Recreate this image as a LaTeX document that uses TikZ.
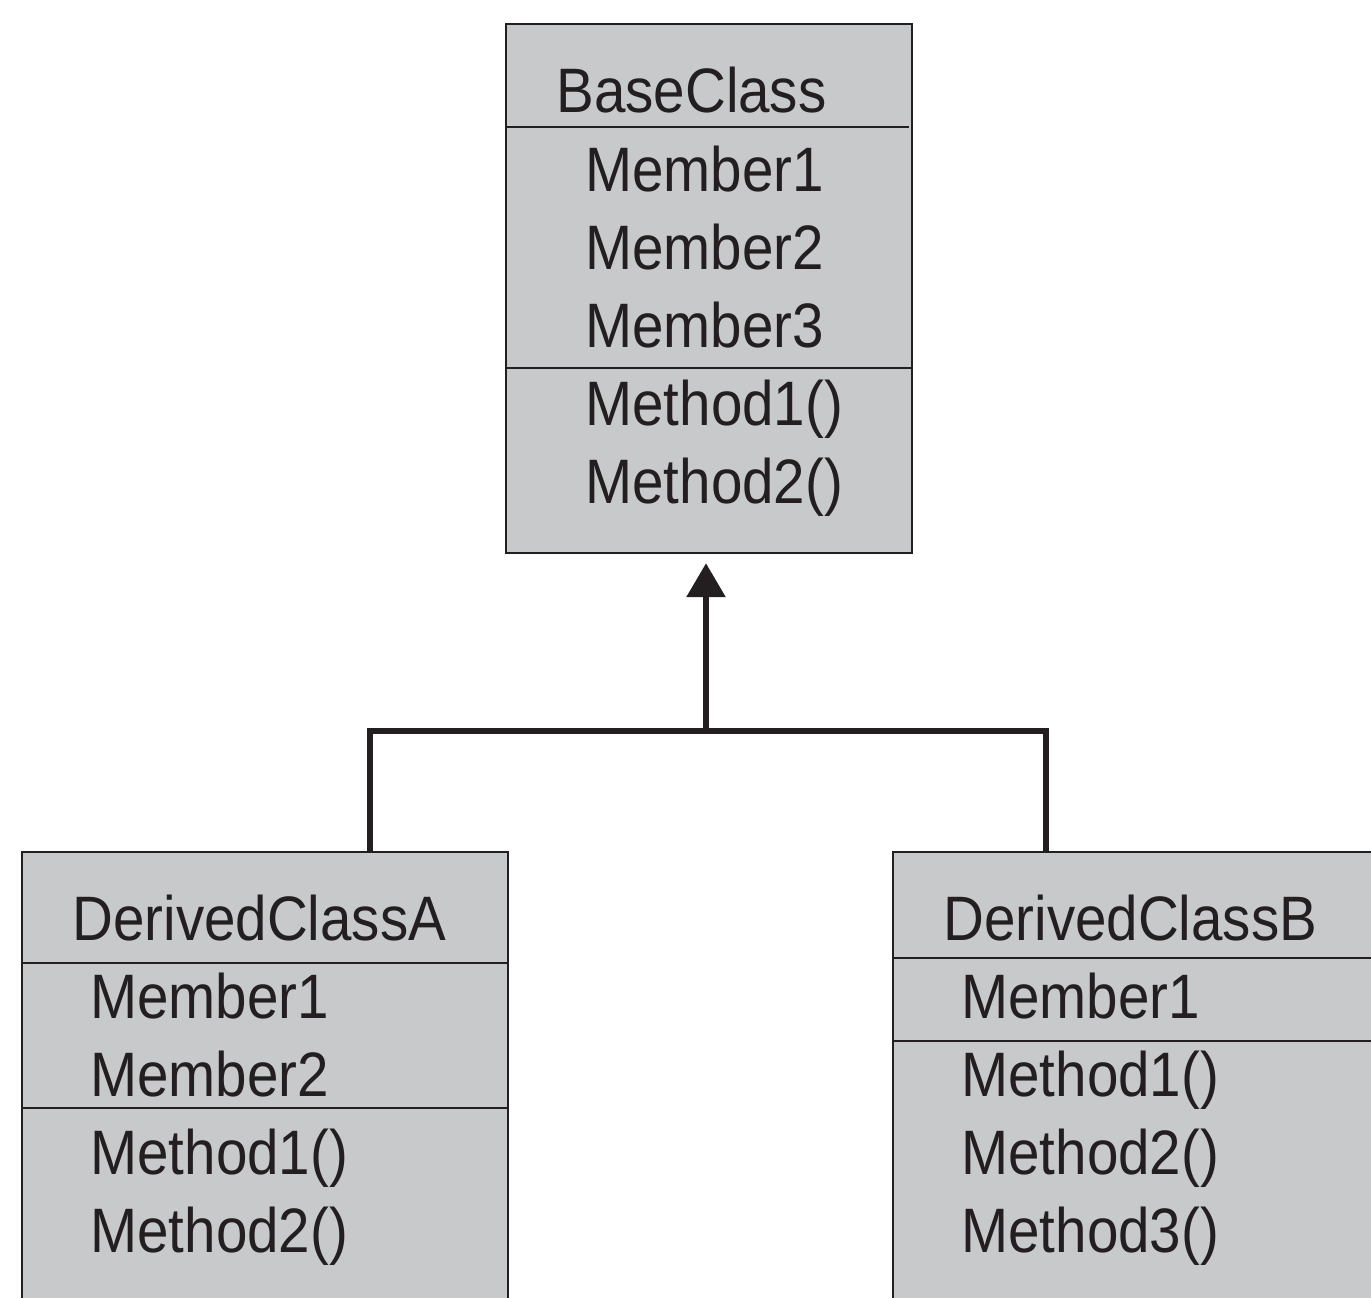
\documentclass[tikz,border=0pt]{standalone}
\usepackage{fontspec}
\setmainfont{Liberation Sans}[FakeStretch=0.9]
\usetikzlibrary{arrows.meta,fit}
\definecolor{boxgray}{HTML}{C8C9CB}
\definecolor{ink}{HTML}{231F20}
\begin{document}
\begin{tikzpicture}[x=0.5pt,y=-0.5pt,
  classbox/.style={draw=ink,fill=boxgray,line width=1.2pt,inner sep=0pt},
  sepline/.style={draw=ink,line width=1.1pt},
  lbl/.style={anchor=base west,inner sep=0pt,text=ink,font=\fontsize{31.4}{36}\selectfont},
  link/.style={draw=ink,line width=3pt,line join=miter}]
\useasboundingbox (0,0) rectangle (1371,1297);
\clip (0,0) rectangle (1371,1297);
% boxes
\node[classbox,fit={(506,24) (912,553)}] (base) {};
\node[classbox,fit={(22,852) (508,1330)}] (dA) {};
\node[classbox,fit={(893,852) (1400,1330)}] (dB) {};
% separators
\draw[sepline] (506,127) -- (909,127);
\draw[sepline] (506,368) -- (912,368);
\draw[sepline] (22,963) -- (508,963);
\draw[sepline] (22,1108) -- (508,1108);
\draw[sepline] (893,958) -- (1371,958);
\draw[sepline] (893,1041) -- (1371,1041);
% texts base
\node[lbl] (bt) at (556,112) {BaseClass};
\node[lbl] (bm1) at (585,191) {Member1};
\node[lbl] (bm2) at (585,269) {Member2};
\node[lbl] (bm3) at (585,347) {Member3};
\node[lbl] (bf1) at (585,425) {Method1()};
\node[lbl] (bf2) at (585,503) {Method2()};
% texts A
\node[lbl] (at) at (72,940) {DerivedClassA};
\node[lbl] (am1) at (90,1018) {Member1};
\node[lbl] (am2) at (90,1096) {Member2};
\node[lbl] (af1) at (90,1174) {Method1()};
\node[lbl] (af2) at (90,1252) {Method2()};
% texts B
\node[lbl] (btt) at (943,940) {DerivedClassB};
\node[lbl] (bbm1) at (961,1018) {Member1};
\node[lbl] (bbf1) at (961,1096) {Method1()};
\node[lbl] (bbf2) at (961,1174) {Method2()};
\node[lbl] (bbf3) at (961,1252) {Method3()};
% connectors
\coordinate (junc) at (706,731);
\coordinate (ja) at (370,852);
\coordinate (jb) at (1046,852);
\draw[link] (ja) |- (junc) -| (jb);
\draw[link,-{Triangle[length=17pt,width=19pt]}] (junc) -- ([yshift=-4.5pt]base.south -| junc);
\end{tikzpicture}
\end{document}
